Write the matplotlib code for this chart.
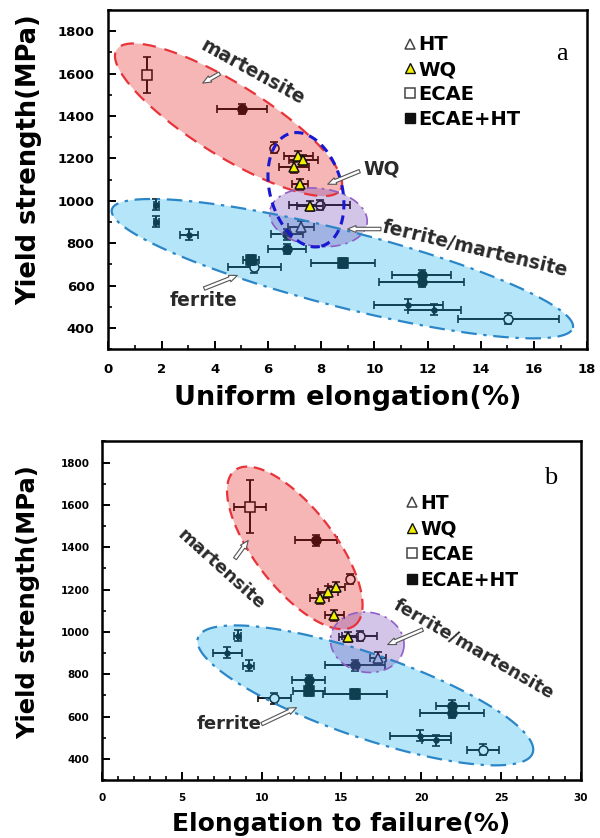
import numpy as np
import matplotlib
matplotlib.use("Agg")
import matplotlib.pyplot as plt
from matplotlib.lines import Line2D

plt.rcParams['font.family'] = ['DejaVu Sans']

# ---- data (yield strength shared, elongation per panel) ----
# open squares (ECAE)
sqo_y = [1592]
sqo_a_x = [1.45]
sqo_a_xerr = [0.0]
sqo_a_yerr = [85]
sqo_b_x = [9.3]
sqo_b_xerr = [1.0]
sqo_b_yerr = [125]

# open circles (ECAE, other steels)
cio_y = [1250, 980, 686, 444]
cio_a_x = [6.24, 7.95, 5.49, 15.04]
cio_a_xerr = [0.0, 1.15, 1.0, 1.9]
cio_b_x = [15.54, 16.14, 10.8, 23.9]
cio_b_xerr = [0.15, 1.1, 1.05, 1.0]

# filled circles (ECAE+HT)
cif_y = [1432, 842, 772, 651, 618]
cif_a_x = [5.03, 6.72, 6.72, 11.78, 11.78]
cif_a_xerr = [0.95, 0.6, 0.7, 1.1, 1.6]
cif_b_x = [13.4, 15.85, 12.95, 21.95, 21.95]
cif_b_xerr = [1.3, 1.9, 1.05, 1.05, 2.0]

# filled squares (ECAE+HT)
sqf_y = [720, 706]
sqf_a_x = [5.35, 8.82]
sqf_a_xerr = [0.3, 1.2]
sqf_b_x = [12.95, 15.85]
sqf_b_xerr = [1.0, 2.0]

# WQ triangles
wq_y = [1212, 1190, 1158, 1078, 975]
wq_a_x = [7.15, 7.33, 6.98, 7.22, 7.58]
wq_a_xerr = [0.55, 0.55, 0.55, 0.3, 0.5]
wq_b_x = [14.69, 14.16, 13.64, 14.55, 15.42]
wq_b_xerr = [0.55, 0.6, 0.6, 0.6, 0.6]

# HT triangles
ht_y = [878]
ht_a_x = [7.25]
ht_a_xerr = [0.5]
ht_b_x = [17.3]
ht_b_xerr = [0.5]

# small cross-like points (HT, ferrite)
cr_y = [982, 902, 840, 510, 487]
cr_a_x = [1.8, 1.8, 3.03, 11.27, 12.25]
cr_a_xerr = [0.1, 0.1, 0.35, 1.3, 1.0]
cr_b_x = [8.5, 7.85, 9.2, 19.95, 20.95]
cr_b_xerr = [0.2, 0.9, 0.35, 1.9, 0.9]

legend_labels = ["HT", "WQ", "ECAE", "ECAE+HT"]

# region ellipses: center x, center y, half-axes (px), angle (deg)
ell_a = {
    "ferrite": (8.8, 680, 238, 38, -14.4),
    "martensite": (4.52, 1382, 132, 36, -32),
    "mixed": (7.9, 922, 49, 29, -7),
    "wq": (7.43, 1052, 58.5, 36, -74.7),
}
ell_b = {
    "ferrite": (16.5, 700, 177, 42, -19),
    "martensite": (12.08, 1397, 98, 40, -52.3),
    "mixed": (16.62, 951, 37, 30, -10),
}

DARK = "#111111"
YERR = 25


def ellipse_xy(ax, cx, cy, a, b, ang):
    p0 = ax.transData.transform((cx, cy))
    t = np.linspace(0, 2 * np.pi, 300)
    th = np.deg2rad(ang)
    dx = a * np.cos(t) * np.cos(th) - b * np.sin(t) * np.sin(th)
    dy = a * np.cos(t) * np.sin(th) + b * np.sin(t) * np.cos(th)
    return ax.transData.inverted().transform(np.column_stack([p0[0] + dx, p0[1] + dy]))


def region(ax, params, fc, ec, ls, lw, alpha=0.3):
    xy = ellipse_xy(ax, *params)
    if fc is not None:
        ax.fill(xy[:, 0], xy[:, 1], color=fc, alpha=alpha, lw=0, zorder=3)
    ax.plot(xy[:, 0], xy[:, 1], color=ec, ls=ls, lw=lw, zorder=4)


def points(ax, x, y, xerr, yerr, marker, ms, mfc, z=2):
    ax.errorbar(x, y, xerr=xerr, yerr=yerr, fmt='none', ecolor=DARK,
                elinewidth=1.4, capsize=3, capthick=1.2, zorder=2)
    ax.plot(x, y, ls='none', marker=marker, ms=ms, mfc=mfc, mec=DARK,
            mew=1.1, zorder=z)


def style(ax, xmax, xmajor, xminor, tsize, pad):
    ax.set_xlim(0, xmax)
    ax.set_ylim(300, 1900)
    ax.set_xticks(np.arange(0, xmax + 0.1, xmajor))
    ax.set_xticks(np.arange(0, xmax + 0.1, xminor), minor=True)
    ax.set_yticks(np.arange(400, 1801, 200))
    ax.set_yticks(np.arange(300, 1901, 100), minor=True)
    ax.tick_params(which='major', direction='in', length=6, width=1.4,
                   labelsize=tsize, pad=pad)
    ax.tick_params(which='minor', direction='in', length=3, width=1.2)
    for lab in ax.get_xticklabels() + ax.get_yticklabels():
        lab.set_fontweight('bold')
    for sp in ax.spines.values():
        sp.set_linewidth(1.8)


def axis_labels(ax, xl, yl, xs, ys, xpos, ypos):
    ax.set_xlabel(xl, fontsize=xs, fontweight='bold')
    ax.set_ylabel(yl, fontsize=ys, fontweight='bold')
    ax.xaxis.label.set_verticalalignment('center')
    ax.yaxis.label.set_verticalalignment('center')
    ax.xaxis.set_label_coords(*xpos)
    ax.yaxis.set_label_coords(*ypos)


def legend(ax, anchor, fs, spacing):
    handles = [
        Line2D([], [], ls='none', marker='^', ms=7, mfc='white', mec='#444444', mew=1.1),
        Line2D([], [], ls='none', marker='^', ms=7, mfc='#f2f000', mec=DARK, mew=1.0),
        Line2D([], [], ls='none', marker='s', ms=6.5, mfc='white', mec='#444444', mew=1.1),
        Line2D([], [], ls='none', marker='s', ms=6.5, mfc=DARK, mec=DARK),
    ]
    ax.legend(handles, legend_labels, loc='upper left', bbox_to_anchor=anchor,
              frameon=False, handlelength=0.7, handletextpad=0.1,
              labelspacing=spacing, borderpad=0, borderaxespad=0,
              prop={'weight': 'bold', 'size': fs})


def arrow(ax, tail, head):
    ax.annotate('', xy=head, xytext=tail, zorder=6,
                arrowprops=dict(arrowstyle='simple,head_width=0.5,head_length=0.6,tail_width=0.25',
                                fc='white', ec='#555555', lw=0.8, shrinkA=0, shrinkB=0))


def label(ax, x, y, s, rot, fs, ha='center'):
    ax.text(x, y, s, rotation=rot, rotation_mode='anchor', ha=ha, va='center',
            fontsize=fs, fontweight='bold', color='#2a2a2a', zorder=6)


fig = plt.figure(figsize=(6.0, 8.38), dpi=100)

# ---------------- panel a ----------------
ax = fig.add_axes([0.1805, 0.5832, 0.798, 0.405])
style(ax, 18, 2, 1, 9.5, 10)
points(ax, sqo_a_x, sqo_y, sqo_a_xerr, sqo_a_yerr, 's', 6.5, 'white')
points(ax, cio_a_x, cio_y, cio_a_xerr, YERR, 'o', 6.5, 'white')
points(ax, cif_a_x, cif_y, cif_a_xerr, YERR, 'o', 6.5, DARK)
points(ax, sqf_a_x, sqf_y, sqf_a_xerr, YERR, 's', 6.5, DARK)
points(ax, ht_a_x, ht_y, ht_a_xerr, YERR, '^', 7, 'white')
points(ax, cr_a_x, cr_y, cr_a_xerr, YERR, 'o', 3.5, DARK)
points(ax, wq_a_x, wq_y, wq_a_xerr, YERR, '^', 7.5, '#f2f000', z=5)
region(ax, ell_a["ferrite"], '#0aaae8', '#2b86c8', (0, (7, 3, 1.5, 3)), 1.6)
region(ax, ell_a["martensite"], '#e41010', '#e8333a', (0, (6, 4)), 1.6)
region(ax, ell_a["mixed"], '#7040b0', '#8f5fc8', (0, (6, 3, 1.5, 3)), 1.2)
region(ax, ell_a["wq"], None, '#1818d0', (0, (3, 2)), 2.2)
label(ax, 5.42, 1607, "martensite", -29, 13.5)
arrow(ax, (4.19, 1600), (3.55, 1555))
label(ax, 9.6, 1150, "WQ", 0, 13.5, ha='left')
arrow(ax, (9.45, 1140), (8.25, 1078))
label(ax, 13.78, 772, "ferrite/martensite", -13.5, 13.5)
arrow(ax, (10.25, 867), (9.0, 867))
label(ax, 3.57, 529, "ferrite", 0, 13.5)
arrow(ax, (3.6, 586), (4.85, 648))
legend(ax, (0.615, 0.925), 14, 0.3)
ax.text(0.948, 0.87, "a", transform=ax.transAxes, ha='center', va='center',
        fontsize=19, family='Liberation Serif')
axis_labels(ax, "Uniform elongation(%)", "Yield strength(MPa)", 19.5, 18.5,
            (0.5, -0.145), (-0.165, 0.56))

# ---------------- panel b ----------------
ax = fig.add_axes([0.170, 0.0692, 0.798, 0.404])
style(ax, 30, 5, 1, 7.5, 9)
points(ax, sqo_b_x, sqo_y, sqo_b_xerr, sqo_b_yerr, 's', 6.5, 'white')
points(ax, cio_b_x, cio_y, cio_b_xerr, YERR, 'o', 6.5, 'white')
points(ax, cif_b_x, cif_y, cif_b_xerr, YERR, 'o', 6.5, DARK)
points(ax, sqf_b_x, sqf_y, sqf_b_xerr, YERR, 's', 6.5, DARK)
points(ax, ht_b_x, ht_y, ht_b_xerr, YERR, '^', 7, 'white')
points(ax, cr_b_x, cr_y, cr_b_xerr, YERR, 'o', 3.5, DARK)
points(ax, wq_b_x, wq_y, wq_b_xerr, YERR, '^', 7.5, '#f2f000', z=5)
region(ax, ell_b["ferrite"], '#0aaae8', '#2b86c8', (0, (7, 3, 1.5, 3)), 1.6)
region(ax, ell_b["martensite"], '#e41010', '#e8333a', (0, (5, 3)), 1.6)
region(ax, ell_b["mixed"], '#7040b0', '#8f5fc8', (0, (6, 3, 1.5, 3)), 1.2)
label(ax, 7.48, 1296, "martensite", -42, 13)
arrow(ax, (8.33, 1346), (9.16, 1432))
label(ax, 23.3, 920, "ferrite/martensite", -30, 13)
arrow(ax, (20.1, 1011), (17.9, 940))
label(ax, 7.97, 565, "ferrite", 0, 13)
arrow(ax, (10.0, 564), (12.19, 642))
legend(ax, (0.633, 0.845), 13.5, 0.35)
ax.text(0.937, 0.891, "b", transform=ax.transAxes, ha='center', va='center',
        fontsize=19, family='Liberation Serif')
axis_labels(ax, "Elongation to failure(%)", "Yield strength(MPa)", 18, 17.5,
            (0.5, -0.13), (-0.155, 0.525))

fig.savefig("out.png", dpi=100)
